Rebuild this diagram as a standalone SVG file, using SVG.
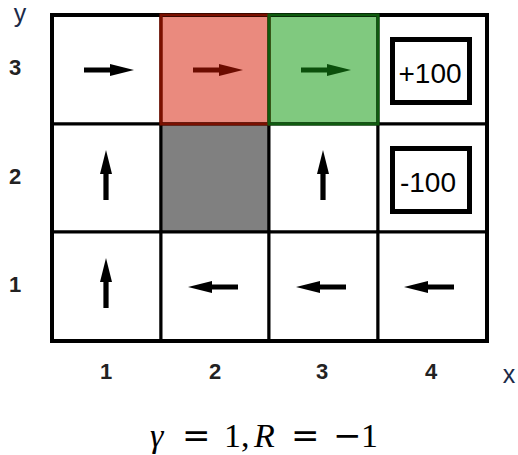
<svg xmlns="http://www.w3.org/2000/svg" width="518" height="455" viewBox="0 0 518 455">
<style>
.cell{fill:#fff;stroke:#000;stroke-width:3}
.lab{font-family:"Liberation Sans",Arial,sans-serif;font-size:22px;font-weight:bold;fill:#222;text-anchor:middle}
.ax{font-family:"Liberation Sans",Arial,sans-serif;font-size:25px;fill:#1b2a48;text-anchor:middle}
.term{fill:#fff;stroke:#000;stroke-width:5}
.tt{font-family:"Liberation Sans",Arial,sans-serif;font-size:28px;fill:#000;text-anchor:middle}
.op{font-family:"DejaVu Serif",serif;font-style:normal}
</style>
<defs>
<path id="arr" d="M-25,-2.6 H1 V-6 L25,0 L1,6 V2.6 H-25 Z"/>
</defs>
<rect x="0" y="0" width="518" height="455" fill="#fff"/>
<g id="grid">
<g id="c13"><rect class="cell" x="52" y="15" width="109" height="109"/><use href="#arr" transform="translate(109,70)"/></g>
<g id="c23"><rect x="161" y="15" width="108" height="109" fill="#ea8a7e" stroke="#7a1000" stroke-width="3"/><use href="#arr" transform="translate(218,70)" fill="#6b0c00"/></g>
<g id="c33"><rect x="269" y="15" width="109" height="109" fill="#80c97f" stroke="#0f5a0f" stroke-width="3"/><use href="#arr" transform="translate(326,70)" fill="#0b4f0b"/></g>
<g id="c43"><rect class="cell" x="378" y="15" width="109" height="109"/><rect class="term" x="392.5" y="39.5" width="77" height="63"/><text class="tt" x="430" y="83">+100</text></g>
<g id="c12"><rect class="cell" x="52" y="124" width="109" height="108"/><use href="#arr" transform="translate(106,175) rotate(-90)"/></g>
<g id="c22"><rect x="161" y="124" width="108" height="108" fill="#808080" stroke="#000" stroke-width="3"/></g>
<g id="c32"><rect class="cell" x="269" y="124" width="109" height="108"/><use href="#arr" transform="translate(323,175) rotate(-90)"/></g>
<g id="c42"><rect class="cell" x="378" y="124" width="109" height="108"/><rect class="term" x="392.5" y="148.5" width="77" height="63"/><text class="tt" x="428" y="192">-100</text></g>
<g id="c11"><rect class="cell" x="52" y="232" width="109" height="109"/><use href="#arr" transform="translate(106,283) rotate(-90)"/></g>
<g id="c21"><rect class="cell" x="161" y="232" width="108" height="109"/><use href="#arr" transform="translate(213,287) rotate(180)"/></g>
<g id="c31"><rect class="cell" x="269" y="232" width="109" height="109"/><use href="#arr" transform="translate(321,287) rotate(180)"/></g>
<g id="c41"><rect class="cell" x="378" y="232" width="109" height="109"/><use href="#arr" transform="translate(429,287) rotate(180)"/></g>
<rect x="52" y="15" width="435" height="326" fill="none" stroke="#000" stroke-width="4"/>
<rect x="161" y="15" width="108" height="109" fill="none" stroke="#7a1000" stroke-width="3"/>
<rect x="269" y="15" width="109" height="109" fill="none" stroke="#0f5a0f" stroke-width="3"/>
</g>
<g id="labels">
<text class="ax" x="20" y="22">y</text>
<text class="lab" x="15" y="75">3</text>
<text class="lab" x="15" y="184">2</text>
<text class="lab" x="15" y="292">1</text>
<text class="lab" x="106" y="379">1</text>
<text class="lab" x="215" y="379">2</text>
<text class="lab" x="322" y="379">3</text>
<text class="lab" x="431" y="379">4</text>
<text class="ax" x="509" y="383">x</text>
<text y="447" font-family="'Liberation Serif','DejaVu Serif',serif" font-size="34" fill="#000"><tspan x="150" font-style="italic">γ</tspan><tspan x="182" class="op">=</tspan><tspan x="224">1,</tspan><tspan x="254" font-style="italic">R</tspan><tspan x="291" class="op">=</tspan><tspan x="333" class="op">−</tspan><tspan x="361">1</tspan></text>
</g>
</svg>
